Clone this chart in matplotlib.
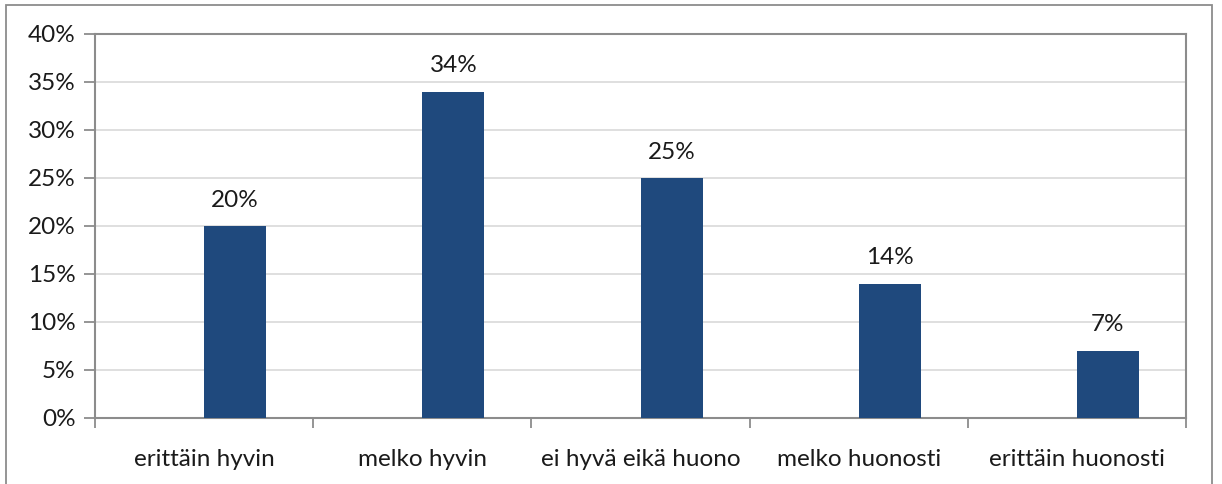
import numpy as np
import matplotlib.pyplot as plt
from matplotlib.patches import Rectangle
from matplotlib.ticker import FuncFormatter, MultipleLocator

categories = ['erittäin hyvin', 'melko hyvin', 'ei hyvä eikä huono', 'melko huonosti', 'erittäin huonosti']
values = [20, 34, 25, 14, 7]

plt.rcParams['font.family'] = ['Lato', 'DejaVu Sans']

fig = plt.figure(figsize=(12.22, 4.84), dpi=100)
ax = fig.add_axes([95 / 1222, 1 - 418 / 484, (1186 - 95) / 1222, (418 - 34) / 484])

# outer chart frame
fig.patches.append(Rectangle((6 / 1222, -0.1), (1212 - 6) / 1222, 1.1 - 5 / 484,
                             transform=fig.transFigure, fill=False,
                             edgecolor='#8c8c8c', linewidth=1.3))

x = np.arange(len(categories))
bw = 0.285
bars = ax.bar(x, values, width=bw, align='edge', color='#1f497d', zorder=3)
for b, v in zip(bars, values):
    ax.text(b.get_x() + b.get_width() / 2, v + 1.6, f'{v}%', ha='center', va='bottom',
            fontsize=17.5, color='#1a1a1a')

ax.set_xlim(-0.5, len(categories) - 0.5)
ax.set_ylim(0, 40)
ax.yaxis.set_major_locator(MultipleLocator(5))
ax.yaxis.set_major_formatter(FuncFormatter(lambda v, p: f'{v:.0f}%'))
ax.grid(axis='y', color='#d9d9d9', linewidth=1.2, zorder=0)

ax.set_xticks(x)
ax.set_xticklabels(categories)
ax.set_xticks(np.arange(-0.5, len(categories)), minor=True)
ax.tick_params(axis='x', which='major', length=0, pad=22, labelsize=17.5, labelcolor='#1a1a1a')
ax.tick_params(axis='x', which='minor', length=7, color='#8c8c8c', width=1.3)
ax.tick_params(axis='y', length=8, color='#8c8c8c', width=1.3, labelsize=17.5,
               labelcolor='#1a1a1a', pad=6)

for s in ax.spines.values():
    s.set_color('#8c8c8c')
    s.set_linewidth(1.5)

fig.savefig('out.png', dpi=100)
